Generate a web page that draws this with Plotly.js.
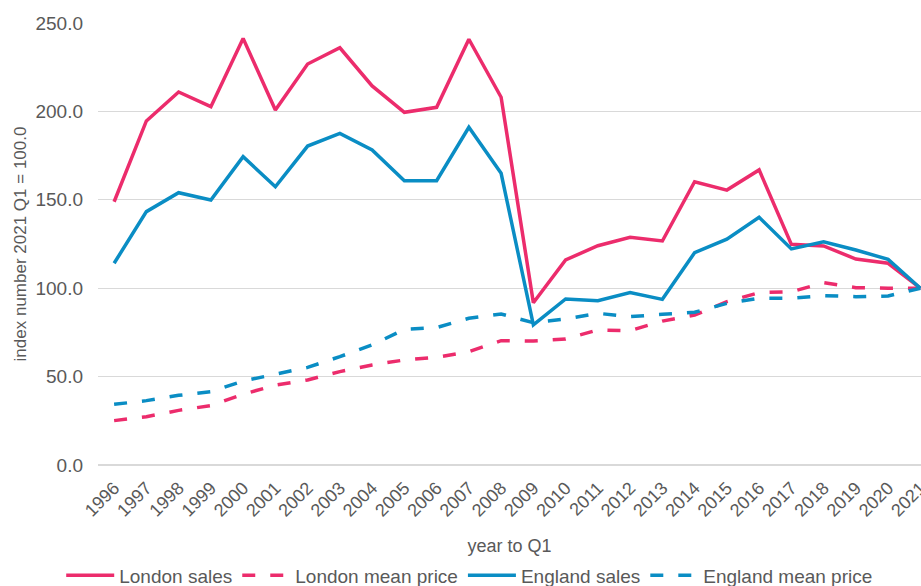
<!DOCTYPE html>
<html>
<head>
<meta charset="utf-8">
<script src="https://cdn.plot.ly/plotly-3.0.1.min.js"></script>
<style>html,body{margin:0;padding:0;background:#fff;}#chart{width:921px;height:586px;}</style>
</head>
<body>
<div id="chart"></div>
<script>
const years = [1996,1997,1998,1999,2000,2001,2002,2003,2004,2005,2006,2007,2008,2009,2010,2011,2012,2013,2014,2015,2016,2017,2018,2019,2020,2021];
const londonSales = [148.9,194.6,211.0,202.7,241.3,200.8,226.8,236.0,214.4,199.5,202.3,240.8,208.0,91.8,116.0,124.0,128.8,126.7,160.2,155.5,166.9,124.8,123.9,116.5,114.1,100.0];
const londonMeanPrice = [25.1,27.3,30.9,33.6,40.0,45.2,48.1,52.8,56.6,59.4,60.9,64.1,70.3,70.1,71.3,76.4,76.0,81.4,84.8,92.4,97.5,98.0,103.1,100.3,100.0,100.0];
const englandSales = [114.1,143.3,154.0,149.9,174.4,157.4,180.4,187.6,178.2,160.8,160.8,191.0,165.0,79.2,93.9,92.9,97.6,93.7,120.1,127.7,140.1,122.2,126.3,121.6,116.3,100.0];
const englandMeanPrice = [34.3,36.4,39.4,41.5,47.5,51.5,55.2,61.3,67.9,76.7,77.7,83.0,85.4,80.5,82.6,85.8,83.9,85.2,86.4,91.4,94.3,94.3,95.8,95.2,95.6,100.0];
const seriesNames = ["London sales","London mean price","England sales","England mean price"];

const pink = "#EC2C6C", blue = "#0A8DC4";
const dash = "13px,15px";
const mk = (y, name, color, d) => ({
  x: years, y: y, name: name, type: "scatter", mode: "lines",
  line: {color: color, width: 3.5, dash: d}
});
const data = [
  mk(londonSales, seriesNames[0], pink, "solid"),
  mk(londonMeanPrice, seriesNames[1], pink, dash),
  mk(englandSales, seriesNames[2], blue, "solid"),
  mk(englandMeanPrice, seriesNames[3], blue, dash)
];
const fam = "Liberation Sans, Arial, sans-serif";
const grey = "#595959";
const layout = {
  width: 921, height: 586,
  margin: {l: 98, r: 0, t: 23, b: 121},
  paper_bgcolor: "#fff", plot_bgcolor: "#fff",
  font: {family: fam, size: 18, color: grey},
  showlegend: true,
  legend: {orientation: "h", xref: "container", yref: "container", x: 0.51, xanchor: "center", y: 0.018, yanchor: "middle", font: {size: 19, color: grey, family: fam}, itemwidth: 48, tracegroupgap: 0},
  xaxis: {
    range: [1995.5, 2021.02], tickmode: "array", tickvals: years, ticktext: years.map(String),
    tickangle: -45, showgrid: false, zeroline: false, showline: false, ticks: "",
    tickfont: {size: 18, color: grey}, ticklabelstandoff: 8, ticklabeloverflow: "allow",
    title: {text: "year to Q1", font: {size: 18, color: grey}, standoff: 27},
    automargin: false
  },
  yaxis: {
    range: [0, 250], dtick: 50, tickformat: ".1f", showgrid: true, gridcolor: "#D9D9D9", gridwidth: 1.3,
    zeroline: true, zerolinecolor: "#D9D9D9", zerolinewidth: 1.3, showline: false, ticks: "", ticklen: 0,
    tickfont: {size: 19, color: grey}, ticklabelstandoff: 14,
    title: {text: "index number 2021 Q1 = 100.0", font: {size: 17, color: grey}, standoff: 4},
    automargin: false
  }
};
Plotly.newPlot("chart", data, layout, {displayModeBar: false, staticPlot: true});
</script>
</body>
</html>
